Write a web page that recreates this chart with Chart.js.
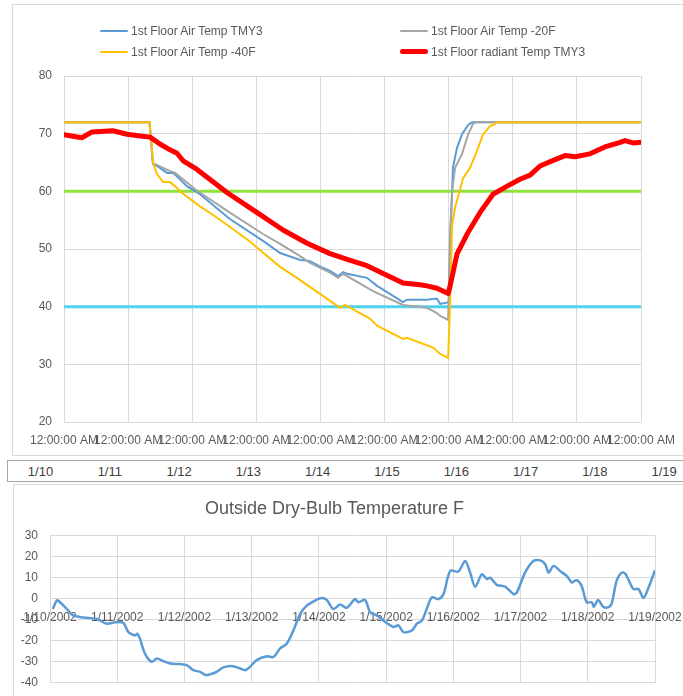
<!DOCTYPE html>
<html>
<head>
<meta charset="utf-8">
<script src="https://cdn.jsdelivr.net/npm/chart.js@4.4.0/dist/chart.umd.min.js"></script>
<style>
body{margin:0;width:683px;height:696px;overflow:hidden;background:#fff;position:relative;font-family:"Liberation Sans",Arial,sans-serif}
#topFrame{position:absolute;left:12px;top:4px;width:672px;height:452px;border:1px solid #d9d9d9;box-sizing:border-box}
#graphicT{position:absolute;left:0;top:0}
.lg{position:absolute;font-size:12px;color:#595959;white-space:nowrap;line-height:14px;transform:translateY(-50%)}
.lg i{display:inline-block;vertical-align:middle;width:28px;margin-right:3px;border-radius:3px;position:relative;top:-1px}
#dateStrip{position:absolute;left:7px;top:460px;width:680px;height:22px;border:1px solid #a6a6a6;box-sizing:border-box}
.dl{position:absolute;top:3px;font-size:13px;color:#404040;transform:translateX(-50%)}
#botFrame{position:absolute;left:13px;top:484px;width:672px;height:215px;border:1px solid #d9d9d9;box-sizing:border-box}
#graphicB{position:absolute;left:0;top:0}
</style>
</head>
<body>
<div id="topFrame"><canvas id="graphicT" width="670" height="450"></canvas></div>
<div id="dateStrip"></div>
<div id="botFrame"><canvas id="graphicB" width="670" height="217"></canvas></div>
<script>
// tick / category labels
const topTickLabels = ['12:00:00 AM','12:00:00 AM','12:00:00 AM','12:00:00 AM','12:00:00 AM','12:00:00 AM','12:00:00 AM','12:00:00 AM','12:00:00 AM','12:00:00 AM'];
const dayLabels = ['1/10','1/11','1/12','1/13','1/14','1/15','1/16','1/17','1/18','1/19'];
const outsideTickLabels = ['1/10/2002','1/11/2002','1/12/2002','1/13/2002','1/14/2002','1/15/2002','1/16/2002','1/17/2002','1/18/2002','1/19/2002'];
const seriesNames = ['1st Floor Air Temp TMY3','1st Floor Air Temp -20F','1st Floor Air Temp -40F','1st Floor radiant Temp TMY3'];

// hours since 1/10 00:00
const tmy3Hours = [0,32,33.3,34.8,38.6,40.8,43.4,46.0,50.9,62.1,74.5,80.9,88.4,92.1,97,99.6,102.6,104.5,106,113.4,117.2,126.9,128.4,135.9,139.6,140.8,143.4,144.1,144.5,145.6,147.1,149.0,151.3,152.8,216];
const tmy3Temp  = [72,72,64.7,64.4,63.2,63.2,62.1,60.9,59.5,55.2,51.4,49.3,48.1,47.9,46.7,46.2,45.3,46.0,45.7,45.0,43.6,40.8,41.2,41.2,41.4,40.5,40.7,41,49.7,64.1,67.5,69.9,71.5,72,72];

const minus20Hours = [0,32,33.3,39.7,41.6,49.8,62.1,74.5,80.9,87.2,92.1,99.6,102.6,104.5,115.7,126.9,135.9,139.6,140.8,143.8,144.5,145.3,146.4,149.0,151.3,153.1,154.2,216];
const minus20Temp  = [72,72,64.9,63.5,63.2,60.1,56.3,52.6,50.9,49.1,47.6,45.9,45.0,45.7,42.7,40.3,39.8,38.9,38.4,37.7,52.6,60.1,64.1,66.5,69.9,71.7,72,72];

const minus40Hours = [0,32,32.9,33.3,34.8,37.1,39.7,42.3,44.2,50.9,55.8,61.0,69.6,72.3,80.9,87.2,99.6,103.3,105.2,114.6,117.2,126.9,128.4,138.2,140.8,143.8,144.5,145.3,146.4,149.4,152.0,154.6,156.9,159.5,161.4,162,216];
const minus40Temp  = [72,72,67.5,65,63,61.6,61.6,60.6,59.7,57.4,55.9,54.2,51.3,50.2,46.9,45.0,41,39.8,40.3,37.9,36.7,34.4,34.6,32.9,31.8,31.1,39.8,54.3,57.2,62.3,64.1,67,69.9,71.3,71.7,72,72];

const radiantHours = [0,6.7,10.5,18.3,23.6,28.5,32.2,35.9,39.7,42.3,44.6,49.8,61.0,72.3,82.0,91.0,99.6,106.0,113.4,118.3,126.9,133.3,135.9,139.6,143.8,144.5,147.1,150.9,155.7,160.6,165.9,170.7,174.5,178.2,183.8,187.6,191.3,196.9,202.5,208.2,210.0,213.0,216];
const radiantTemp  = [69.8,69.3,70.3,70.5,69.9,69.6,69.4,68.2,67.2,66.6,65.3,63.8,59.8,56.3,53.3,51.0,49.2,48.2,47.1,46.0,44.1,43.8,43.6,43.2,42.3,43.5,49.1,52.6,56.3,59.5,60.9,62.1,62.8,64.4,65.5,66.2,66.0,66.5,67.7,68.5,68.8,68.4,68.5];

const limitHours = [0,216];
const upperLimit = [60,60];
const lowerLimit = [40,40];

const outsideHours = [1.0,2.4,3.3,6.0,8.3,13.1,16.7,20.2,23.2,26.2,28.0,30.4,31.2,32.1,33.9,36.3,38.1,40.5,42.9,46.4,48.8,51.2,53.6,55.4,57.1,59.5,61.9,64.9,67.9,69.6,71.4,73.8,77.4,79.8,82.1,84.5,86.9,89.3,91.7,94.6,97.0,98.8,101.2,103.6,105.9,108.9,110.1,112.5,114.3,116.7,119.0,122.6,124.4,126.2,129.2,131.0,132.8,134.5,136.3,138.7,140.5,142.9,145.8,148.2,150.0,151.8,154.2,156.0,157.1,159.5,162.5,165.5,166.7,169.6,172.6,175.0,176.8,178.0,179.8,182.1,184.5,186.3,188.0,189.8,191.6,193.4,194.2,195.7,197.5,199.3,200.5,202.3,204.1,205.4,208.3,210.1,211.9,213.7,216];
const outsideTemp  = [-4.9,-0.9,-1.3,-4.9,-8,-9.1,-9.6,-11.9,-11.2,-11.5,-15.9,-17.5,-16.7,-19,-26.1,-30,-28.5,-29.7,-30.8,-31.1,-31.6,-34,-34.8,-36.3,-36,-34.8,-32.7,-32,-33.2,-34,-32.4,-29.2,-27.4,-27.7,-23.7,-21.4,-15.1,-7.2,-3.3,-0.9,0.3,-0.6,-4.9,-2.8,-4.4,-0.2,-1.7,-0.6,-6.4,-8,-10.4,-13.5,-12.7,-15.9,-15.1,-11.9,-10.4,-4.9,0.6,-0.2,2.2,13.2,12.9,17.9,12.4,5.7,11.6,9.3,10,6.6,5.7,2.2,3,12.4,17.9,18.2,16.4,12.4,15.6,13.2,10.8,7.7,8.8,6.1,-1.7,-1.7,-3.8,-0.6,-3.8,-4.1,-2.5,8.5,12.4,11.9,4.6,4.6,0.3,5.3,13.5];

const pts = (xs, ys) => xs.map((x, i) => ({x: x, y: ys[i]}));

Chart.defaults.font.family = '"Liberation Sans", Arial, sans-serif';
Chart.defaults.color = '#595959';

const gridColor = '#d9d9d9';

const topSeries = [
    {label: seriesNames[0], data: pts(tmy3Hours, tmy3Temp), borderColor: '#5b9bd5', borderWidth: 2, order: 3},
    {label: seriesNames[1], data: pts(minus20Hours, minus20Temp), borderColor: '#a5a5a5', borderWidth: 2, order: 2},
    {label: seriesNames[2], data: pts(minus40Hours, minus40Temp), borderColor: '#ffc000', borderWidth: 2, order: 1},
    {label: seriesNames[3], data: pts(radiantHours, radiantTemp), borderColor: '#ff0000', borderWidth: 5, order: 0, borderCapStyle: 'round', borderJoinStyle: 'round'},
    {label: 'upper', data: pts(limitHours, upperLimit), borderColor: '#8ee43a', borderWidth: 3, order: 4},
    {label: 'lower', data: pts(limitHours, lowerLimit), borderColor: '#4fd2f0', borderWidth: 3, order: 5}
];

new Chart(document.getElementById('graphicT'), {
    type: 'line',
    data: {datasets: topSeries},
    options: {
        responsive: false,
        animation: false,
        layout: {padding: {top: 71, right: 42, left: 0, bottom: 0}},
        elements: {point: {radius: 0}, line: {tension: 0}},
        plugins: {legend: {display: false}, tooltip: {enabled: false}},
        scales: {
            x: {
                type: 'linear', min: 0, max: 216,
                grid: {color: gridColor, drawTicks: true, tickLength: 8, tickColor: 'rgba(0,0,0,0)'},
                border: {display: false},
                ticks: {stepSize: 24, autoSkip: false, maxRotation: 0, padding: 3, font: {size: 12},
                        callback: (v, i) => topTickLabels[i]},
                afterFit: s => { s.height = 33; }
            },
            y: {
                min: 20, max: 80,
                grid: {color: gridColor, drawTicks: false},
                border: {display: false},
                ticks: {stepSize: 10, padding: 12, font: {size: 12}},
                afterFit: s => { s.width = 51; }
            }
        }
    }
});

// legend (2 x 2)
const topFrame = document.getElementById('topFrame');
const legendPos = [[87, 26], [387, 26], [87, 47], [387, 47]];
seriesNames.forEach((name, i) => {
    const d = document.createElement('div');
    d.className = 'lg';
    d.style.left = legendPos[i][0] + 'px';
    d.style.top = legendPos[i][1] + 'px';
    const sw = document.createElement('i');
    sw.style.height = topSeries[i].borderWidth + 'px';
    sw.style.background = topSeries[i].borderColor;
    d.appendChild(sw);
    d.appendChild(document.createTextNode(name));
    topFrame.appendChild(d);
});

// date strip
const strip = document.getElementById('dateStrip');
dayLabels.forEach((t, i) => {
    const d = document.createElement('div');
    d.className = 'dl';
    d.style.left = (32.5 + i * 69.3) + 'px';
    d.textContent = t;
    strip.appendChild(d);
});

new Chart(document.getElementById('graphicB'), {
    type: 'line',
    data: {
        datasets: [{
            label: 'Outside Dry-Bulb Temperature F',
            data: pts(outsideHours, outsideTemp),
            borderColor: '#5b9bd5',
            borderWidth: 2.5,
            tension: 0.3
        }]
    },
    options: {
        responsive: false,
        animation: false,
        layout: {padding: {top: 0, right: 29, left: 0, bottom: 8}},
        elements: {point: {radius: 0}},
        plugins: {
            legend: {display: false},
            tooltip: {enabled: false},
            title: {display: true, text: 'Outside Dry-Bulb Temperature F', color: '#595959',
                    font: {size: 18, weight: 'normal'}, padding: {top: 13, bottom: 16}}
        },
        scales: {
            x: {
                type: 'linear', min: 0, max: 216,
                position: {y: 0},
                grid: {color: gridColor, drawTicks: true, tickLength: 11, tickColor: 'rgba(0,0,0,0)'},
                border: {color: gridColor},
                ticks: {stepSize: 24, autoSkip: false, maxRotation: 0, padding: 1, font: {size: 12},
                        callback: (v, i) => outsideTickLabels[i]}
            },
            y: {
                min: -40, max: 30,
                grid: {color: gridColor, drawTicks: false},
                border: {display: false},
                ticks: {stepSize: 10, padding: 12, font: {size: 12}},
                afterFit: s => { s.width = 36; }
            }
        }
    }
});
</script>
</body>
</html>
